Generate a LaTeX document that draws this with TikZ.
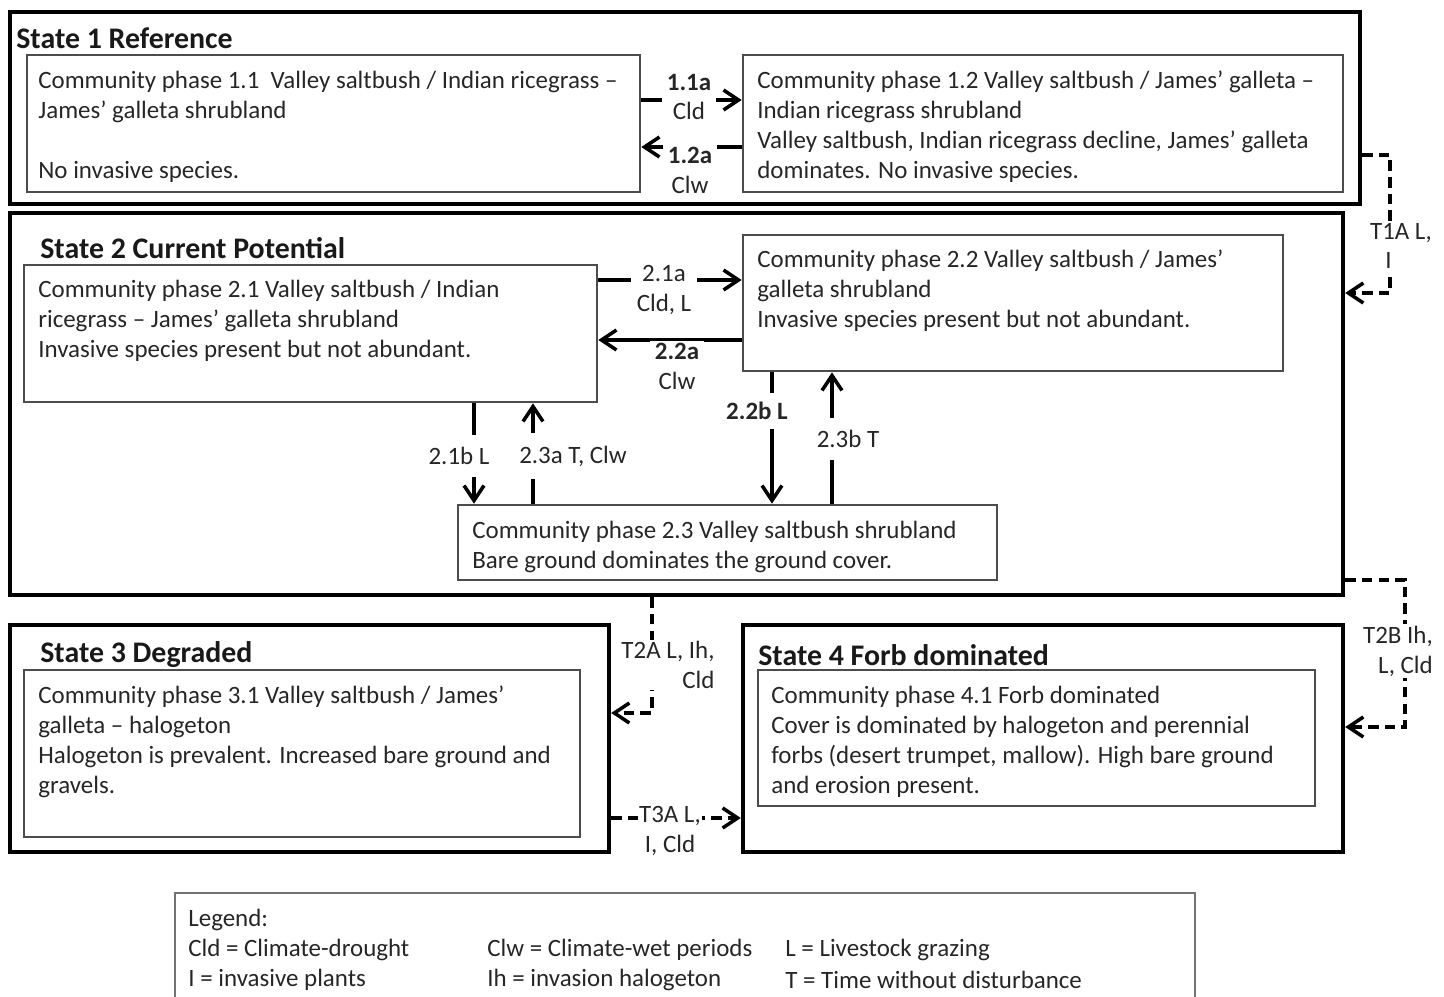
\documentclass[tikz,border=0pt]{standalone}
\usepackage{fontspec}
\setmainfont{Carlito}
\usetikzlibrary{arrows.meta,fit,positioning}

\tikzset{
  statebox/.style={draw=black, line width=2.5pt, inner sep=0pt},
  phasebox/.style={draw=black!70, line width=1.5pt, inner sep=0pt},
  statetitle/.style={anchor=west, inner sep=0pt, text=black!90, font=\fontsize{17}{19}\selectfont\bfseries},
  phasetext/.style={anchor=north west, inner sep=0pt, align=left, text=black!85, font=\fontsize{14.2}{17}\selectfont},
  trans/.style={line width=2pt, -{Straight Barb[length=3mm,width=4mm]}},
  dtrans/.style={trans, dash pattern=on 6pt off 3.5pt},
  lbl/.style={fill=white, inner xsep=3pt, inner ysep=1pt, align=center, text=black!85, font=\fontsize{14.2}{17}\selectfont},
  vlbl/.style={lbl, inner ysep=7pt},
  legtext/.style={anchor=west, inner sep=0pt, text=black!85, font=\fontsize{14.2}{17}\selectfont},
}

\begin{document}
\begin{tikzpicture}[x=0.02cm, y=-0.02cm]
    \useasboundingbox (0,0) rectangle (1444,997);
    \clip (0,0) rectangle (1444,997);

    % State 1 (top)
    \node[statebox, fit={(10,12) (1360,204)}] (s1) {};
    \node[statetitle] (s1t) at (16,38) {State 1 Reference};
    \node[phasebox, fit={(27,55) (640,192)}] (p11) {};
    \node[phasetext] (t11) at (38,71) {Community phase 1.1\ \ Valley saltbush / Indian ricegrass --\\
        James' galleta shrubland\\[17pt]
        No invasive species.};
    \node[phasebox, fit={(743,55) (1343,192)}] (p12) {};
    \node[phasetext] (t12) at (757,71) {Community phase 1.2 Valley saltbush / James' galleta --\\
        Indian ricegrass shrubland\\
        Valley saltbush, Indian ricegrass decline, James' galleta\\
        dominates. No invasive species.};
    \draw[trans] (p11.east |- 0,100) -- (p12.west |- 0,100);
    \node[lbl] (l11a) at (689,97) {\textbf{1.1a}\\Cld};
    \draw[trans] (p12.west |- 0,147) -- (p11.east |- 0,147);
    \node[lbl] (l12a) at (690,170) {\textbf{1.2a}\\Clw};

    % State 2 (middle)
    \node[statebox, fit={(10,213) (1343,595)}] (s2) {};
    \node[statetitle] (s2t) at (40,248) {State 2 Current Potential};
    \node[phasebox, fit={(24,265) (597,402)}] (p21) {};
    \node[phasetext] (t21) at (38,280) {Community phase 2.1 Valley saltbush / Indian\\
        ricegrass -- James' galleta shrubland\\
        Invasive species present but not abundant.};
    \node[phasebox, fit={(743,235) (1283,371)}] (p22) {};
    \node[phasetext] (t22) at (757,250) {Community phase 2.2 Valley saltbush / James'\\
        galleta shrubland\\
        Invasive species present but not abundant.};
    \node[phasebox, fit={(458,505) (997,580)}] (p23) {};
    \node[phasetext] (t23) at (472,521) {Community phase 2.3 Valley saltbush shrubland\\
        Bare ground dominates the ground cover.};
    \draw[trans] (p21.east |- 0,280) -- (p22.west |- 0,280);
    \node[lbl] (l21a) at (664,290) {2.1a\\Cld, L};
    \draw[trans] (p22.west |- 0,340) -- (p21.east |- 0,340);
    \node[lbl] (l22a) at (677,366) {\textbf{2.2a}\\Clw};
    \draw[trans] (p21.south -| 474,0) -- (p23.north -| 474,0);
    \node[vlbl] (l21b) at (459,456) {2.1b L};
    \draw[trans] (p23.north -| 533,0) -- (p21.south -| 533,0);
    \node[vlbl] (l23a) at (573,456) {2.3a T, Clw};
    \draw[trans] (p22.south -| 772,0) -- (p23.north -| 772,0);
    \node[vlbl, inner ysep=5pt] (l22b) at (757,411) {\textbf{2.2b L}};
    \draw[trans] (p23.north -| 832,0) -- (p22.south -| 832,0);
    \node[vlbl] (l23b) at (848,439) {2.3b T};

    % State 3 (bottom left)
    \node[statebox, fit={(10,625) (609,852)}] (s3) {};
    \node[statetitle] (s3t) at (40,655) {State 3 Degraded};
    \node[phasebox, fit={(24,670) (580,837)}] (p31) {};
    \node[phasetext] (t31) at (38,686) {Community phase 3.1 Valley saltbush / James'\\
        galleta -- halogeton\\
        Halogeton is prevalent. Increased bare ground and\\
        gravels.};

    % State 4 (bottom right)
    \node[statebox, fit={(743,625) (1343,852)}] (s4) {};
    \node[statetitle] (s4t) at (758,655) {State 4 Forb dominated};
    \node[phasebox, fit={(758,670) (1315,806)}] (p41) {};
    \node[phasetext] (t41) at (771,686) {Community phase 4.1 Forb dominated\\
        Cover is dominated by halogeton and perennial\\
        forbs (desert trumpet, mallow). High bare ground\\
        and erosion present.};

    % State transitions
    \draw[dtrans] (s1.east |- 0,155) -- ++(28,0) |- (s2.east |- 0,293);
    \node[lbl] (lt1a) at (1401,246) {T1A L,\\I\hspace*{1em}};
    \draw[dtrans] (s2.south -| 652,0) |- (s3.east |- 0,713);
    \node[lbl, align=right] (lt2a) at (668,665) {T2A L, Ih,\\Cld};
    \draw[dtrans] (s2.east |- 0,580) -- ++(60,0) |- (s4.east |- 0,727);
    \node[lbl, align=right] (lt2b) at (1398,651) {T2B Ih,\\L, Cld};
    \draw[dtrans] (s3.east |- 0,818) -- (s4.west |- 0,818);
    \node[lbl, inner xsep=0.5pt, inner ysep=0pt] (lt3a) at (670,831) {T3A L,\\I, Cld};

    % Legend
    \node[draw=black!55, line width=1.5pt, inner sep=0pt, fit={(175,893) (1195,1010)}] (leg) {};
    \node[legtext] (lg0) at (188,920) {Legend:};
    \node[legtext] (lg1) at (188,950) {Cld = Climate-drought};
    \node[legtext] (lg2) at (487,950) {Clw = Climate-wet periods};
    \node[legtext] (lg3) at (785,950) {L = Livestock grazing};
    \node[legtext] (lg4) at (188,980) {I = invasive plants};
    \node[legtext] (lg5) at (487,980) {Ih = invasion halogeton};
    \node[legtext] (lg6) at (785,980) {T = Time without disturbance};
\end{tikzpicture}
\end{document}
